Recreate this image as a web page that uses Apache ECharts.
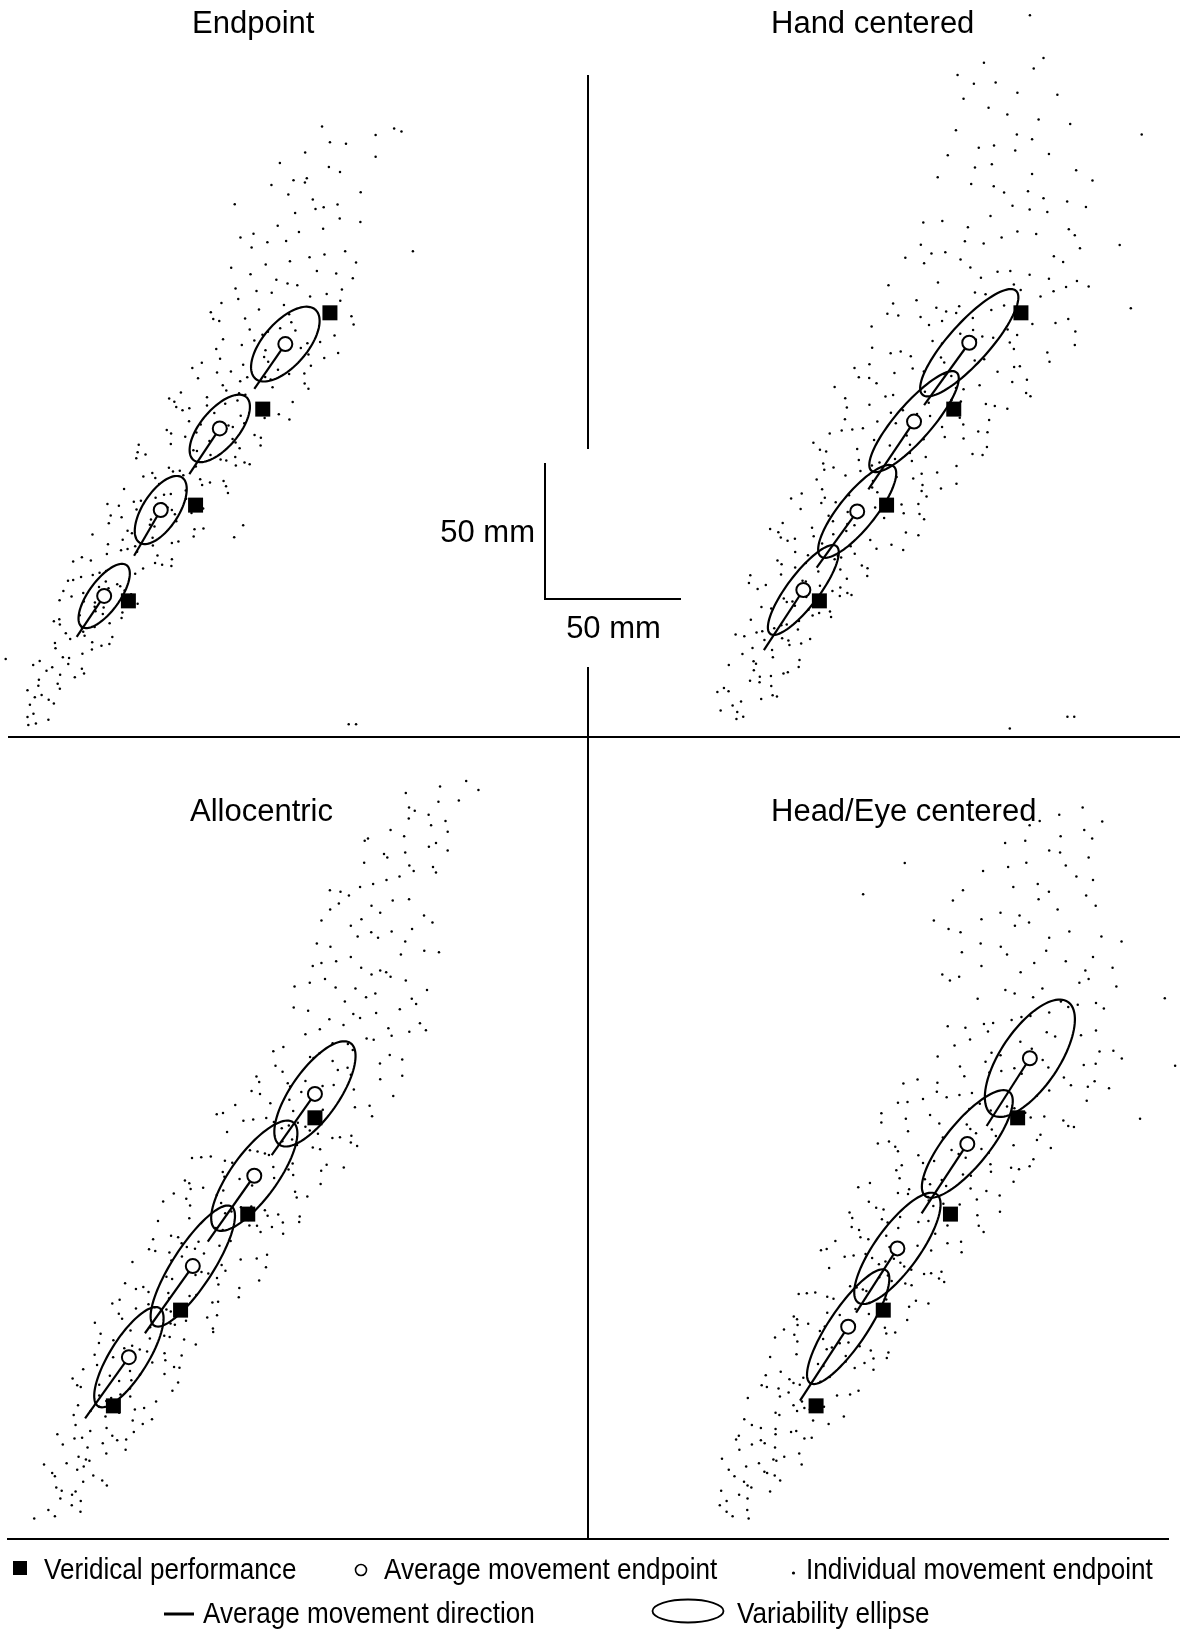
<!DOCTYPE html>
<html>
<head>
<meta charset="utf-8">
<script src="https://cdn.jsdelivr.net/npm/echarts@6/dist/echarts.min.js"></script>
<style>
html,body{margin:0;padding:0;background:#fff;}
#chart{width:1203px;height:1630px;}
</style>
</head>
<body>
<div id="chart"></div>
<script>
// ---------------- DATA (all positions in mm) ----------------
const panelTitles = ['Endpoint', 'Hand centered', 'Allocentric', 'Head/Eye centered'];
const legendLabels = ['Veridical performance', 'Average movement endpoint', 'Individual movement endpoint', 'Average movement direction', 'Variability ellipse'];
const scaleBarLabel = '50 mm';
const scaleBarLength = 50; // mm

// veridical targets (same in every panel)
const targets = [[121.3,149.7],[96.6,114.3],[71.9,79.0],[47.2,43.8]];

// Endpoint panel
const meanEndpoint = [[104.9,138.2],[80.8,107.2],[59.1,77.2],[38.3,45.6]];
const dirEndEndpoint = [[93.5,121.7],[69.6,90.4],[49.3,60.4],[28.2,30.6]];
const ellEndpoint = [[16.8,8.1,49],[15.1,7.0,50],[14.3,6.6,57],[14.0,5.7,54]]; // [semi-major, semi-minor, angle deg]
const dotsEndpoint = [
[13.2,-1.3],[12.3,2.3],[11.0,5.6],[17.8,0.1],[17.9,7.4],[10.1,1.1],[19.8,6.1],[10.4,-1.8],
[15.3,9.2],[14.3,14.8],[22.0,11.5],[30.9,17.1],[12.8,8.4],[21.2,13.3],[27.5,15.7],[10.1,10.9],[22.1,16.6],[14.1,12.6],
[25.1,20.6],[20.4,26.4],[30.1,18.8],[23.1,23.1],[40.2,27.9],[14.6,21.7],[30.3,24.4],[19.2,19.4],[33.8,25.9],[25.4,22.8],[12.2,20.2],[37.3,27.3],[17.1,18.1],
[24.2,31.9],[33.9,28.6],[22.0,35.1],[30.6,32.4],[44.7,37.5],[25.8,29.8],[34.8,34.2],[19.8,36.3],[41.3,30.5],[30.1,33.9],[20.2,28.3],[40.3,35.6],[31.1,31.0],[21.8,37.0],
[34.9,43.2],[45.0,39.5],[30.6,46.7],[38.1,41.4],[21.9,44.0],[45.8,47.6],[29.3,38.5],[50.6,42.7],[26.3,45.4],[35.1,40.0],[48.2,46.2],[30.8,43.6],[37.8,39.0],[23.3,47.4],[34.8,41.6],
[44.2,49.2],[39.0,54.8],[26.9,51.5],[59.6,57.1],[39.9,48.4],[34.1,53.3],[52.6,55.7],[38.9,50.9],[63.0,56.6],[29.8,52.6],[43.1,49.9],[36.6,54.1],[57.0,57.7],[25.0,51.2],[36.4,48.9],[49.7,53.8],
[50.4,61.9],[33.4,58.6],[63.2,65.1],[44.5,62.4],[71.2,67.5],[30.1,59.8],[56.2,64.2],[45.1,66.3],[57.9,60.5],[49.7,63.9],[26.9,58.3],[65.6,65.6],[39.3,61.0],[56.1,67.0],[46.9,62.9],[63.2,59.1],[39.7,64.6],
[48.5,68.7],[40.0,72.3],[64.3,75.6],[71.5,70.1],[50.2,77.4],[56.8,71.1],[70.4,76.1],[34.0,68.2],[55.5,73.7],[44.7,74.5],[74.7,77.8],[63.2,77.2],[46.9,69.6],[74.8,70.4],[40.7,75.2],[64.8,73.1],[55.1,71.8],[86.1,67.2],[89.4,71.6],
[51.8,80.6],[74.3,86.4],[43.7,78.8],[62.8,83.1],[82.2,87.9],[57.2,81.7],[68.3,84.4],[39.5,79.4],[83.1,85.9],[60.3,82.8],[49.2,80.2],[77.2,87.3],[61.6,78.1],[45.6,84.9],[68.4,81.3],[58.5,86.8],[83.8,83.5],[59.5,79.7],
[72.0,93.2],[52.7,89.5],[86.5,96.7],[63.6,91.4],[91.8,94.0],[53.5,97.6],[73.6,88.5],[62.1,92.7],[83.2,95.4],[67.4,90.0],[50.1,96.2],[86.7,93.6],[57.1,89.0],[77.4,97.4],[66.1,91.6],[89.9,94.7],[56.0,90.8],[81.1,95.8],
[71.1,99.2],[93.6,104.8],[62.8,101.5],[83.2,107.1],[50.6,98.4],[85.5,103.3],[72.2,105.7],[95.8,100.9],[61.3,106.6],[77.0,102.6],[88.1,99.9],[68.1,104.1],[85.6,107.7],[51.0,101.2],[72.4,98.9],[95.9,103.8],[62.9,105.3],[86.6,102.0],
[88.5,111.9],[73.8,108.6],[64.8,115.1],[102.5,112.4],[87.3,117.5],[69.5,109.8],[95.3,114.2],[82.8,116.3],[106.4,110.5],[67.1,113.9],[84.0,108.3],[76.1,115.6],[97.3,111.0],[64.1,117.0],[78.8,112.9],[89.8,109.1],[69.6,114.6],[107.6,116.9],
[76.1,118.7],[100.2,122.3],[72.8,125.6],[87.9,120.1],[111.9,127.4],[83.2,121.1],[97.5,126.1],[62.2,118.2],[112.0,123.7],[88.3,124.5],[79.8,127.8],[106.3,127.2],[90.2,119.6],[66.5,120.4],[99.5,125.2],[81.9,123.1],[113.4,121.8],[90.9,126.0],
[89.4,130.6],[79.5,136.4],[102.2,128.8],[119.2,133.1],[88.9,137.9],[98.6,131.7],[113.4,134.4],[70.7,129.4],[97.6,135.9],[80.9,132.8],[114.3,130.2],[105.3,137.3],[84.9,128.1],[124.3,134.9],[74.2,131.3],[110.6,136.8],[97.1,133.5],
[108.6,143.2],[93.5,139.5],[80.6,146.7],[123.0,141.4],[103.0,144.0],[90.1,147.6],[113.0,138.5],[98.5,142.7],[130.0,145.4],[82.0,140.0],[107.1,146.2],[91.8,143.6],[117.7,139.0],[78.4,147.4],[96.5,141.6],
[106.3,149.2],[87.6,154.8],[121.5,151.5],[99.9,157.1],[129.2,148.4],[81.4,153.3],[114.0,155.7],[95.2,150.9],[120.1,156.6],[104.4,152.6],[77.5,149.9],[125.1,154.1],[94.3,157.7],
[101.6,161.9],[86.6,158.6],[116.5,165.1],[129.7,162.4],[97.7,167.5],[109.3,159.8],[123.6,164.2],[85.0,166.3],[105.7,160.5],[92.1,163.9],[125.7,158.3],
[106.6,168.7],[126.9,172.3],[98.3,175.6],[113.8,170.1],[88.4,177.4],[119.3,171.1],[105.2,176.1],[130.9,168.2],[92.5,173.7],
[118.8,180.6],[108.5,186.4],[93.2,178.8],[132.5,183.1],[116.0,187.9],[102.1,181.7],[124.9,184.4],[109.9,179.4],
[106.0,193.2],[124.1,189.5],[99.8,196.7],[115.0,191.4],[132.6,194.0],[112.1,197.6],[119.0,188.5],
[112.8,199.2],[102.9,204.8],[125.0,201.5],[138.1,207.1],[107.9,198.4],[120.9,203.3],
[127.2,211.9],[112.2,208.6],[138.1,215.1],[121.3,212.4],[144.9,217.5],
[2.1,22.4],[128.2,-1.6],[130.9,-1.6],[151.8,172.3],[118.4,218.2],[86.3,189.6],[147.6,216.4]
];

// Hand centered panel
const meanHand = [[102.3,138.7],[82.0,109.7],[61.1,76.7],[41.3,47.8]];
const dirEndHand = [[85.7,115.8],[65.2,84.8],[46.2,56.0],[26.8,25.7]];
const ellHand = [[25.7,7.4,48],[23.9,6.6,49],[21.3,6.6,51],[20.2,5.9,53]];
const dotsHand = [
[19.2,1.2],[18.4,6.8],[10.9,3.5],[30.0,9.1],[16.7,0.4],[15.3,5.3],[25.8,7.7],[17.0,2.9],[31.6,8.6],
[25.2,13.9],[13.8,10.6],[34.0,17.1],[21.7,14.4],[39.6,19.5],[12.1,11.8],[29.4,16.2],[23.1,18.3],[29.5,12.5],[25.3,15.9],[9.7,10.3],[35.6,17.6],
[23.9,20.7],[18.9,24.3],[36.2,27.6],[39.9,22.1],[27.0,29.4],[30.1,23.1],[40.5,28.1],[13.9,20.2],[29.8,25.7],[22.6,26.5],[43.8,29.8],[35.8,29.2],[23.0,21.6],
[26.2,32.6],[44.7,38.4],[19.6,30.8],[35.2,35.1],[51.1,39.9],[30.6,33.7],[39.7,36.4],[16.4,31.4],[51.5,37.9],[33.2,34.8],[24.1,32.2],[47.1,39.3],[33.5,30.1],[22.0,36.9],[39.3,33.3],
[42.4,45.2],[25.9,41.5],[54.9,48.7],[35.2,43.4],[59.0,46.0],[27.5,49.6],[43.2,40.5],[34.1,44.7],[52.0,47.4],[38.2,42.0],[24.5,48.2],[54.7,45.6],[29.5,41.0],[47.4,49.4],[37.3,43.6],[57.5,46.7],
[41.0,51.2],[62.8,56.8],[33.1,53.5],[52.8,59.1],[21.3,50.4],[54.9,55.3],[42.2,57.7],[64.8,52.9],[31.8,58.6],[46.8,54.6],[57.3,51.9],[38.3,56.1],[55.2,59.7],[21.8,53.2],[42.2,50.9],[64.9,55.8],[33.3,57.3],
[58.7,63.9],[43.0,60.6],[33.0,67.1],[73.7,64.4],[57.1,69.5],[38.3,61.8],[65.9,66.2],[52.3,68.3],[78.0,62.5],[35.5,65.9],[54.0,60.3],[45.1,67.6],[68.2,63.0],[32.1,69.0],[48.2,64.9],[60.2,61.1],[38.2,66.6],[79.0,68.9],[83.6,67.9],
[44.5,70.7],[71.0,74.3],[40.3,77.6],[57.5,72.1],[83.6,79.4],[52.2,73.1],[67.7,78.1],[29.1,70.2],[84.0,75.7],[57.6,76.5],[47.9,79.8],[77.4,79.2],[60.1,71.6],[33.7,72.4],[70.0,77.2],[50.6,75.1],[85.7,73.8],[60.4,78.0],[78.2,76.0],
[58.1,82.6],[46.2,88.4],[72.9,80.8],[91.9,85.1],[56.8,89.9],[68.5,83.7],[85.1,86.4],[36.8,81.4],[66.9,87.9],[48.2,84.8],[86.6,82.2],[75.6,89.3],[53.2,80.1],[97.6,86.9],[40.7,83.3],[81.7,88.8],[66.6,85.5],[49.2,81.7],[84.8,84.2],
[81.2,95.2],[62.3,91.5],[49.7,98.7],[97.6,93.4],[75.0,96.0],[61.1,99.6],[84.8,90.5],[69.3,94.7],[107.2,97.4],[49.0,92.0],[80.5,98.2],[61.7,95.6],[90.5,91.0],[47.4,99.4],[66.5,93.6],[86.3,96.7],[52.4,92.8],[103.5,97.8],[48.6,94.3],
[80.5,101.2],[59.3,106.8],[100.2,103.5],[75.3,109.1],[108.8,100.4],[51.0,105.3],[92.3,107.7],[67.3,102.9],[100.1,108.6],[79.3,104.6],[45.0,101.9],[105.6,106.1],[68.5,109.7],[85.5,103.2],[73.1,100.9],[109.0,105.8],[63.2,107.3],[93.3,104.0],[55.4,106.4],
[77.9,113.9],[56.6,110.6],[99.2,117.1],[116.3,114.4],[74.3,119.5],[87.9,111.8],[108.4,116.2],[56.7,118.3],[83.1,112.5],[65.6,115.9],[109.6,110.3],[95.7,117.6],[73.5,113.0],[124.8,119.0],[57.3,114.9],[98.8,111.1],[87.4,116.6],[71.5,118.9],[111.7,115.4],
[86.0,120.7],[118.1,124.3],[74.8,127.6],[97.4,122.1],[60.1,129.4],[106.1,123.1],[85.6,128.1],[123.2,120.2],[65.5,125.7],[95.7,126.5],[118.8,129.8],[81.5,129.2],[100.2,121.6],[52.8,122.4],[92.9,127.2],[123.5,125.1],[68.2,123.8],[112.7,128.0],[61.7,126.0],
[107.8,132.6],[92.3,138.4],[65.6,130.8],[131.0,135.1],[104.7,139.9],[80.8,133.7],[118.7,136.4],[93.1,131.4],[141.1,137.9],[73.4,134.8],[104.3,132.2],[88.8,139.3],[120.9,130.1],[66.6,136.9],[91.9,133.3],[117.2,138.8],[77.1,135.5],[131.8,131.7],
[87.5,145.2],[119.9,141.5],[76.2,148.7],[103.7,143.4],[134.0,146.0],[97.5,149.6],[111.1,140.5],[66.4,144.7],[138.7,147.4],[99.0,142.0],[84.4,148.2],[125.5,145.6],[107.1,141.0],[72.2,149.4],[116.4,143.6],[92.3,146.7],[141.3,142.8],[103.6,147.8],
[110.4,150.7],[82.9,154.3],[133.3,157.6],[98.6,152.1],[146.2,159.4],[74.3,153.1],[121.2,158.1],[93.8,150.2],[128.5,155.7],[108.3,156.5],[72.6,159.8],[137.9,159.2],[90.2,151.6],[115.1,152.4],[104.4,157.2],
[106.6,162.6],[136.8,168.4],[90.8,160.8],[117.4,165.1],[78.8,169.9],[124.5,163.7],[102.7,166.4],[141.9,161.4],[85.7,167.9],[112.7,164.8],[131.6,162.2],[99.1,169.3],[118.7,160.1],
[107.6,175.2],[88.4,171.5],[126.9,178.7],[143.0,173.4],[100.7,176.0],[120.0,179.6],[133.4,170.5],[84.5,174.7],[114.2,177.4],[93.5,172.0],[141.1,178.2],
[101.8,181.2],[131.0,186.8],[92.4,183.5],[118.2,189.1],[138.9,180.4],[110.1,185.3],[124.5,187.7],[85.4,182.9],[145.2,188.6],
[115.1,193.9],[138.3,190.6],[103.0,197.1],[123.9,194.4],[90.7,199.5],[129.6,191.8],[111.3,196.2],[147.6,198.3],
[125.4,200.7],[110.6,204.3],[94.4,207.6],[141.6,202.1],[119.2,209.4],[104.4,203.1],[131.6,208.1],
[111.4,211.2],[97.4,216.8],[125.4,213.5],[139.4,219.1],[105.8,210.4],[119.8,215.3],
[116.3,222.6],[100.2,228.4],[127.8,220.8],[109.4,225.1],[134.7,229.9],
[104.0,233.9],[120.0,230.6],[98.0,237.1],[112.0,234.4],[126.0,239.5],[129.6,243.4],[107.7,241.6],
[117.2,-3.1],[138.4,1.2],[140.9,1.2],[124.6,259.1],[161.7,151.4],[165.7,215.3],[157.6,174.6]
];

// Allocentric panel
const meanAllo = [[121.3,158.5],[99.0,128.4],[76.4,95.2],[52.9,61.7]];
const dirEndAllo = [[105.4,136.0],[81.9,104.2],[58.8,70.5],[36.8,39.2]];
const ellAllo = [[22.8,8.8,55],[24.3,8.5,54],[26.1,7.4,57],[21.3,7.0,58]];
const dotsAllo = [
[25.7,3.2],[35.2,8.8],[23.3,5.5],[32.0,11.1],[18.1,2.4],[31.9,7.3],[27.7,9.7],[35.1,4.9],
[36.1,15.9],[28.2,12.6],[24.7,19.1],[43.1,16.4],[36.3,21.5],[26.2,13.8],[39.8,18.2],[33.9,20.3],[44.8,14.5],[25.7,17.9],[33.3,12.3],
[30.0,22.7],[44.6,26.3],[28.6,29.6],[37.1,24.1],[51.9,31.4],[34.4,25.1],[43.3,30.1],[21.7,22.2],[51.7,27.7],[37.7,28.5],[32.9,31.8],[48.6,31.2],[38.4,23.6],
[38.7,34.6],[32.6,40.4],[46.8,32.8],[58.0,37.1],[38.8,41.9],[44.7,35.7],[54.3,38.4],[26.6,33.4],[44.3,39.9],[33.3,36.8],[54.7,34.2],[49.3,41.3],[35.7,32.1],[61.4,38.9],
[53.4,47.2],[42.0,43.5],[35.2,50.7],[62.9,45.4],[49.8,48.0],[42.0,51.6],[55.1,42.5],[46.4,46.7],[68.9,49.4],[34.2,44.0],[53.3,50.2],[42.0,47.6],[58.5,43.0],[33.9,51.4],[44.6,45.6],
[53.8,53.2],[41.2,58.8],[66.0,55.5],[51.2,61.1],[71.0,52.4],[36.1,57.3],[61.5,59.7],[45.9,54.9],[66.3,60.6],[53.3,56.6],[32.2,53.9],[69.5,58.1],[47.1,61.7],[57.0,55.2],[49.3,52.9],[71.5,57.8],
[54.1,65.9],[40.3,62.6],[67.9,69.1],[77.5,66.4],[53.5,71.5],[59.6,63.8],[73.2,68.2],[42.5,70.3],[56.9,64.5],[47.2,67.9],[72.3,62.3],[65.9,69.6],[51.2,65.0],[83.9,71.0],[41.9,66.9],[66.0,63.1],[60.6,68.6],
[60.7,72.7],[81.7,76.3],[55.5,79.6],[68.2,74.1],[46.8,81.4],[73.9,75.1],[62.4,80.1],[83.8,72.2],[49.2,77.7],[68.3,78.5],[83.6,81.8],[60.1,81.2],[69.8,73.6],[40.4,74.4],[66.7,79.2],[85.3,77.1],[50.4,75.8],
[77.7,84.6],[68.8,90.4],[49.5,82.8],[93.5,87.1],[77.4,91.9],[60.1,85.7],[85.8,88.4],[67.7,83.4],[100.8,89.9],[55.5,86.8],[75.2,84.2],[66.7,91.3],[85.7,82.1],[51.5,88.9],[67.4,85.3],[85.3,90.8],[58.2,87.5],[93.3,83.7],
[68.5,97.2],[88.4,93.5],[62.6,100.7],[78.5,95.4],[99.9,98.0],[77.2,101.6],[82.1,92.5],[54.2,96.7],[103.7,99.4],[74.7,94.0],[67.8,100.2],[94.0,97.6],[79.6,93.0],[60.3,101.4],[87.0,95.6],[72.4,98.7],[103.3,94.8],[80.5,99.8],
[86.2,102.7],[68.4,106.3],[105.5,109.6],[78.5,104.1],[115.5,111.4],[61.8,105.1],[97.2,110.1],[74.2,102.2],[101.3,107.7],[87.4,108.5],[63.6,111.8],[109.5,111.2],[72.3,103.6],[90.3,104.4],[84.9,109.2],[109.6,107.1],[71.0,105.8],[100.0,110.0],
[88.3,114.6],[114.6,120.4],[75.1,112.8],[97.9,117.1],[69.4,121.9],[102.9,115.7],[86.8,118.4],[115.7,113.4],[74.0,119.9],[94.1,116.8],[107.8,114.2],[85.2,121.3],[96.8,112.1],[65.5,118.9],[90.6,115.3],[118.5,120.8],[75.4,117.5],[103.9,113.7],
[93.6,127.2],[75.6,123.5],[111.6,130.7],[123.4,125.4],[88.0,128.0],[106.0,131.6],[114.0,122.5],[73.5,126.7],[100.2,129.4],[80.2,124.0],[123.6,130.2],[106.3,127.6],[87.6,123.0],[131.9,131.4],[75.1,125.6],[113.3,128.7],[98.2,124.8],[87.4,129.8],
[90.9,133.2],[120.5,138.8],[83.0,135.5],[109.3,141.1],[125.6,132.4],[100.2,137.3],[114.7,139.7],[76.1,134.9],[134.5,140.6],[102.9,136.6],[88.2,133.9],[123.2,138.1],[112.9,141.7],[79.5,135.2],[113.1,132.9],[97.4,137.8],[136.8,139.3],[104.4,136.0],
[109.1,145.9],[130.5,142.6],[98.6,149.1],[117.8,146.4],[87.5,151.5],[122.4,143.8],[106.2,148.2],[142.3,150.3],[89.0,144.5],[115.0,147.9],[127.7,142.3],[103.4,149.6],[119.4,145.0],[85.2,151.0],[111.7,146.9],[134.7,143.1],[95.0,148.6],
[124.2,152.7],[111.9,156.3],[98.0,159.6],[141.4,154.1],[124.1,161.4],[104.9,155.1],[135.6,160.1],[113.3,152.2],[150.1,157.7],[101.1,158.5],[128.2,161.8],[112.2,161.2],[136.0,153.6],[92.0,154.4],[116.3,159.2],
[117.8,163.2],[106.8,168.8],[134.5,165.5],[153.4,171.1],[111.3,162.4],[129.7,167.3],[145.2,169.7],[99.8,164.9],[127.8,170.6],[109.4,166.6],[145.3,163.9],[133.3,168.1],[120.8,171.7],[153.4,165.2],[100.8,162.9],
[135.2,174.6],[117.8,180.4],[148.8,172.8],[127.8,177.1],[162.1,181.9],[109.7,175.7],[142.9,178.4],[123.0,173.4],[149.5,179.9],[133.4,176.8],[106.0,174.2],[156.0,181.3],[119.5,172.1],[140.3,178.9],
[126.6,185.9],[148.3,182.6],[118.8,189.1],[137.9,186.4],[158.5,191.5],[131.8,183.8],[143.8,188.2],[113.5,190.3],[159.9,184.5],[135.4,187.9],[123.1,182.3],[152.5,189.6],
[136.2,197.2],[156.9,193.5],[125.0,200.7],[143.5,195.4],[113.8,198.0],[149.1,201.6],[132.3,192.5],[162.5,196.7],[119.4,199.4],[140.1,194.0],[154.7,200.2],[128.9,197.6],
[147.5,203.2],[134.5,208.8],[120.5,205.5],[161.5,211.1],[142.1,202.4],[129.1,207.3],[152.9,209.7],[138.3,204.9],[166.9,210.6],[123.7,206.6],[145.3,203.9],
[144.5,215.9],[127.0,212.6],[157.0,219.1],[137.0,216.4],[164.5,221.5],[122.0,213.8],[149.5,218.2],[134.5,220.3],[154.5,214.5],[142.0,217.9],
[138.4,222.7],[126.9,226.3],[149.9,229.6],[161.4,224.1],[133.8,231.4],[145.3,225.1],[155.9,230.1],[123.7,222.2],[142.1,227.7],[130.1,228.5],
[137.9,234.6],[157.6,240.4],[130.7,232.8],[147.6,237.1],[164.7,241.9],[142.7,235.7],[152.4,238.4],[126.8,233.4],[165.8,239.9],
[154.5,247.2],[139.4,243.5],[165.8,250.7],[147.9,245.4],[170.1,248.0],[139.6,251.6],[156.0,242.5],[146.7,246.7],[163.2,249.4],
[154.1,253.2],[169.3,258.8],[149.1,255.5],[163.1,261.1],[140.8,252.4],[164.0,257.3],[155.8,259.7],[170.1,254.9],
[166.7,265.9],[158.0,262.6],[154.7,269.1],[174.2,266.4],[167.3,271.5],[155.9,263.8],
[181.4,270.2],[176.9,273.5]
];

// Head/Eye centered panel
const meanHeadEye = [[125.8,171.6],[102.8,140.1],[77.1,101.7],[59.0,72.9]];
const dirEndHeadEye = [[109.9,146.7],[86.0,114.6],[61.9,78.1],[41.3,45.7]];
const ellHeadEye = [[25.0,10.7,56],[24.6,8.1,51],[24.6,8.1,54],[25.0,7.0,56]];
const dotsHeadEye = [
[16.5,3.2],[14.3,8.8],[21.9,5.5],[18.9,11.1],[22.4,2.4],[11.8,7.3],[22.0,9.7],[14.3,4.9],
[20.7,15.9],[12.3,12.6],[29.2,19.1],[34.0,16.4],[21.5,21.5],[23.4,13.8],[32.0,18.2],[15.1,20.3],[22.0,14.5],[17.2,17.9],[30.3,12.3],[28.2,19.6],
[26.2,22.7],[41.0,26.3],[23.6,29.6],[31.5,24.1],[17.8,31.4],[35.5,25.1],[28.3,30.1],[41.9,22.2],[19.0,27.7],[32.1,28.5],[42.9,31.8],[26.9,31.2],[32.6,23.6],[12.6,24.4],
[39.9,34.6],[33.7,40.4],[18.8,32.8],[51.8,37.1],[40.2,41.9],[26.9,35.7],[46.1,38.4],[32.3,33.4],[57.4,39.9],[23.6,36.8],[38.0,34.2],[32.3,41.3],[45.6,32.1],[20.8,38.9],[32.3,35.3],
[33.9,47.2],[50.1,43.5],[29.1,50.7],[42.0,45.4],[59.7,48.0],[41.2,51.6],[44.9,42.5],[22.1,46.7],[62.8,49.4],[38.9,44.0],[33.4,50.2],[54.9,47.6],[42.9,43.0],[27.2,51.4],[49.1,45.6],[37.1,48.7],
[48.8,52.7],[34.2,56.3],[65.0,59.6],[42.5,54.1],[73.2,61.4],[28.7,55.1],[58.1,60.1],[38.9,52.2],[61.4,57.7],[49.9,58.5],[30.3,61.8],[68.3,61.2],[37.4,53.6],[52.2,54.4],[47.9,59.2],[68.3,57.1],
[51.1,64.6],[73.0,70.4],[40.0,62.8],[59.1,67.1],[35.4,71.9],[63.2,65.7],[49.8,68.4],[73.8,63.4],[39.2,69.9],[55.9,66.8],[67.3,64.2],[48.6,71.3],[58.1,62.1],[32.1,68.9],[53.0,65.3],[76.3,70.8],[40.3,67.5],
[55.9,77.2],[40.4,73.5],[71.4,80.7],[80.7,75.4],[51.3,78.0],[66.8,81.6],[72.5,72.5],[39.0,76.7],[61.7,79.4],[44.3,74.0],[81.4,80.2],[66.6,77.6],[50.4,73.0],[88.5,81.4],[40.2,75.6],[72.6,78.7],[59.5,74.8],
[53.6,83.2],[80.0,88.8],[46.9,85.5],[70.4,91.1],[83.9,82.4],[62.1,87.3],[75.0,89.7],[40.8,84.9],[92.4,90.6],[64.4,86.6],[51.3,83.9],[82.3,88.1],[73.6,91.7],[43.8,85.2],[73.0,82.9],[59.7,87.8],[94.3,89.3],[65.7,86.0],
[70.3,95.9],[89.5,92.6],[61.0,99.1],[78.2,96.4],[51.1,101.5],[82.2,93.8],[67.8,98.2],[100.7,100.3],[52.0,94.5],[75.8,97.9],[86.9,92.3],[65.4,99.6],[79.6,95.0],[49.0,101.0],[72.7,96.9],[93.3,93.1],[57.7,98.6],[89.5,100.9],
[84.5,102.7],[73.0,106.3],[60.3,109.6],[100.5,104.1],[84.8,111.4],[66.4,105.1],[95.5,110.1],[74.2,102.2],[108.8,107.7],[63.0,108.5],[88.5,111.8],[73.5,111.2],[95.5,103.6],[54.3,104.4],[77.4,109.2],[91.0,107.1],[63.5,105.8],[107.0,110.0],
[78.1,113.2],[66.6,118.8],[95.3,115.5],[114.7,121.1],[71.4,112.4],[90.3,117.3],[106.3,119.7],[59.5,114.9],[88.3,120.6],[69.3,116.6],[106.5,113.9],[94.0,118.1],[81.0,121.7],[114.8,115.2],[60.5,112.9],[100.0,117.8],[88.6,119.3],[72.0,116.0],
[95.0,124.6],[76.7,130.4],[109.8,122.8],[87.2,127.1],[125.7,131.9],[67.0,125.7],[104.1,128.4],[81.4,123.4],[111.5,129.9],[93.4,126.8],[62.7,124.2],[118.9,131.3],[77.3,122.1],[101.2,128.9],[89.1,125.3],[121.8,130.8],[77.9,127.5],[104.0,123.7],[119.8,126.2],
[84.8,135.9],[111.3,132.6],[76.3,139.1],[99.6,136.4],[128.4,141.5],[90.6,133.8],[108.0,138.2],[69.9,140.3],[127.1,134.5],[97.0,137.9],[78.7,132.3],[119.8,139.6],[102.2,135.0],[74.0,141.0],[110.7,136.9],[86.5,133.1],[133.5,138.6],[101.3,140.9],[77.3,137.4],
[102.6,147.2],[129.7,143.5],[89.1,150.7],[111.8,145.4],[71.2,148.0],[124.1,151.6],[93.8,142.5],[139.9,146.7],[80.2,149.4],[106.0,144.0],[131.1,150.2],[92.5,147.6],[113.3,143.0],[71.2,151.4],[103.9,145.6],[138.1,148.7],[81.0,144.8],[126.1,149.8],[142.0,146.3],
[120.1,153.2],[104.5,158.8],[80.8,155.5],[147.1,161.1],[111.4,152.4],[95.2,157.3],[132.9,159.7],[107.4,154.9],[154.9,160.6],[86.5,156.6],[117.4,153.9],[99.9,158.1],[140.9,161.7],[77.3,155.2],[103.5,152.9],[128.4,157.8],[91.6,159.3],[146.7,156.0],
[122.8,165.9],[91.8,162.6],[145.6,169.1],[110.9,166.4],[159.6,171.5],[84.5,163.8],[132.6,168.2],[109.5,170.3],[138.3,164.5],[120.1,167.9],[79.3,162.3],[150.0,169.6],[101.7,165.0],[130.5,171.0],[115.3,166.9],[149.6,163.1],[100.1,168.6],
[115.0,172.7],[98.1,176.3],[135.1,179.6],[151.4,174.1],[110.4,181.4],[126.5,175.1],[144.6,180.1],[91.9,172.2],[122.3,177.7],[103.8,178.5],[150.1,181.8],[132.0,181.2],[111.7,173.6],[156.5,174.4],
[112.3,184.6],[139.9,190.4],[102.1,182.8],[126.0,187.1],[150.1,191.9],[119.1,185.7],[132.9,188.4],[95.6,183.4],[153.0,189.9],[122.7,186.8],[108.9,184.2],[143.4,191.3],
[130.4,197.2],[106.6,193.5],[147.4,200.7],[120.2,195.4],[157.6,198.0],[99.8,201.6],[137.2,192.5],[116.8,196.7],[144.0,199.4],[127.0,194.0],[96.4,200.2],
[122.4,203.2],[149.0,208.8],[108.0,205.5],[131.8,211.1],[93.6,202.4],[139.0,207.3],[117.4,209.7],[156.2,204.9],[100.8,210.6],[127.4,206.6],[146.2,203.9],
[132.9,215.9],[115.1,212.6],[95.9,219.1],[152.1,216.4],[125.5,221.5],[107.7,213.8],[140.3,218.2],[120.3,220.3],[159.5,214.5],[100.3,217.9],
[108.0,222.7],[136.0,226.3],[97.5,229.6],[122.0,224.1],[146.5,231.4],[115.0,225.1],[129.0,230.1],[90.5,222.2],[150.0,227.7],
[119.7,234.6],[108.6,240.4],[132.8,232.8],[149.0,237.1],[117.8,241.9],[128.7,235.7],[142.9,238.4],[101.2,233.4],
[136.9,247.2],[124.5,243.5],[116.7,250.7],[147.4,245.4],[132.9,248.0],[124.1,251.6],[139.0,242.5],
[137.1,253.2],[129.4,258.8],[145.8,255.5],[136.6,261.1],[148.7,252.4],[125.7,257.3],
[179.2,168.8],[175.4,193.7],[166.3,149.4],[64.5,231.9],[79.8,243.4],[152.4,258.6],[145.2,263.8]
];

// ---------------- LAYOUT ----------------
const K = 2.72; // px per mm
const FONT = '"Liberation Sans", Arial, Helvetica, sans-serif';
const panels = [
  {title: panelTitles[0], mean: meanEndpoint, dir: dirEndEndpoint, ell: ellEndpoint, dots: dotsEndpoint, ox: 0,     oy: 720,  box: [0, 0, 590, 730],     tx: 192, ty: 24.7},
  {title: panelTitles[1], mean: meanHand,     dir: dirEndHand,     ell: ellHand,     dots: dotsHand,     ox: 691,   oy: 720,  box: [590, 0, 613, 730],   tx: 771, ty: 24.7},
  {title: panelTitles[2], mean: meanAllo,     dir: dirEndAllo,     ell: ellAllo,     dots: dotsAllo,     ox: -15,   oy: 1525, box: [0, 740, 590, 800],   tx: 190, ty: 812.5},
  {title: panelTitles[3], mean: meanHeadEye,  dir: dirEndHeadEye,  ell: ellHeadEye,  dots: dotsHeadEye,  ox: 687.7, oy: 1525, box: [590, 740, 613, 800], tx: 771, ty: 812.5}
];

function ellipseCoords(c, e) {
  const th = e[2] * Math.PI / 180, pts = [];
  for (let i = 0; i <= 96; i++) {
    const t = 2 * Math.PI * i / 96;
    pts.push([
      c[0] + e[0] * Math.cos(th) * Math.cos(t) - e[1] * Math.sin(th) * Math.sin(t),
      c[1] + e[0] * Math.sin(th) * Math.cos(t) + e[1] * Math.cos(th) * Math.sin(t)
    ]);
  }
  return pts;
}

const grids = [], xAxes = [], yAxes = [], series = [], graphics = [];
panels.forEach((p, i) => {
  const [l, t, w, h] = p.box;
  grids.push({left: l, top: t, width: w, height: h, containLabel: false});
  xAxes.push({type: 'value', gridIndex: i, min: (l - p.ox) / K, max: (l + w - p.ox) / K, show: false});
  yAxes.push({type: 'value', gridIndex: i, min: (p.oy - (t + h)) / K, max: (p.oy - t) / K, show: false});
  series.push({
    name: legendLabels[2], type: 'scatter', xAxisIndex: i, yAxisIndex: i, data: p.dots,
    symbol: 'circle', symbolSize: 2.5, itemStyle: {color: '#000', opacity: 1}, silent: true, z: 1
  });
  series.push({
    name: legendLabels[4], type: 'lines', coordinateSystem: 'cartesian2d', xAxisIndex: i, yAxisIndex: i,
    polyline: true, silent: true, z: 2,
    lineStyle: {color: '#000', width: 2.2, opacity: 1},
    data: p.ell.map((e, k) => ({coords: ellipseCoords(p.mean[k], e)}))
  });
  series.push({
    name: legendLabels[3], type: 'lines', coordinateSystem: 'cartesian2d', xAxisIndex: i, yAxisIndex: i,
    silent: true, z: 3,
    lineStyle: {color: '#000', width: 2.2, opacity: 1},
    data: p.mean.map((m, k) => ({coords: [m, p.dir[k]]}))
  });
  series.push({
    name: legendLabels[1], type: 'scatter', xAxisIndex: i, yAxisIndex: i, data: p.mean,
    symbol: 'circle', symbolSize: 14, itemStyle: {color: '#fff', borderColor: '#000', borderWidth: 2, opacity: 1},
    silent: true, z: 4
  });
  series.push({
    name: legendLabels[0], type: 'scatter', xAxisIndex: i, yAxisIndex: i, data: targets,
    symbol: 'rect', symbolSize: 15, itemStyle: {color: '#000', opacity: 1}, silent: true, z: 5
  });
  graphics.push({type: 'text', x: p.tx, y: p.ty, silent: true,
    style: {text: p.title, fontSize: 31, fontFamily: FONT, fill: '#000', align: 'left', verticalAlign: 'middle'}});
});

// dividers
const LW = 2;
graphics.push({type: 'line', silent: true, shape: {x1: 588, y1: 75, x2: 588, y2: 449}, style: {stroke: '#000', lineWidth: LW}});
graphics.push({type: 'line', silent: true, shape: {x1: 588, y1: 667, x2: 588, y2: 1539}, style: {stroke: '#000', lineWidth: LW}});
graphics.push({type: 'line', silent: true, shape: {x1: 8, y1: 737, x2: 1180, y2: 737}, style: {stroke: '#000', lineWidth: LW}});
graphics.push({type: 'line', silent: true, shape: {x1: 7, y1: 1539, x2: 1169, y2: 1539}, style: {stroke: '#000', lineWidth: LW}});

// scale bar
const sbx = 545, sby = 599, sbl = scaleBarLength * K;
graphics.push({type: 'polyline', silent: true, shape: {points: [[sbx, sby - sbl], [sbx, sby], [sbx + sbl, sby]]}, style: {stroke: '#000', lineWidth: LW, fill: null}});
graphics.push({type: 'text', x: 535, y: 533, silent: true, style: {text: scaleBarLabel, fontSize: 31, fontFamily: FONT, fill: '#000', align: 'right', verticalAlign: 'middle'}});
graphics.push({type: 'text', x: 613.5, y: 629, silent: true, style: {text: scaleBarLabel, fontSize: 31, fontFamily: FONT, fill: '#000', align: 'center', verticalAlign: 'middle'}});

// legend
const LS = 0.9, LF = 29;
function legText(txt, x, y) {
  return {type: 'text', x: x, y: y, scaleX: LS, silent: true,
    style: {text: txt, fontSize: LF, fontFamily: FONT, fill: '#000', align: 'left', verticalAlign: 'middle'}};
}
const R1 = 1571, R2 = 1614.5;
graphics.push({type: 'rect', silent: true, shape: {x: 13, y: 1561, width: 14, height: 14}, style: {fill: '#000'}});
graphics.push(legText(legendLabels[0], 44, R1));
graphics.push({type: 'circle', silent: true, shape: {cx: 361, cy: 1570, r: 5.5}, style: {fill: '#fff', stroke: '#000', lineWidth: 1.6}});
graphics.push(legText(legendLabels[1], 384, R1));
graphics.push({type: 'circle', silent: true, shape: {cx: 793.5, cy: 1573, r: 1.6}, style: {fill: '#000'}});
graphics.push(legText(legendLabels[2], 806, R1));
graphics.push({type: 'line', silent: true, shape: {x1: 164, y1: 1614, x2: 194, y2: 1614}, style: {stroke: '#000', lineWidth: 3}});
graphics.push(legText(legendLabels[3], 203, R2));
graphics.push({type: 'ellipse', silent: true, shape: {cx: 688, cy: 1611, rx: 35.5, ry: 11.5}, style: {fill: null, stroke: '#000', lineWidth: 1.8}});
graphics.push(legText(legendLabels[4], 737, R2));

const chart = echarts.init(document.getElementById('chart'), null, {renderer: 'canvas', width: 1203, height: 1630});
chart.setOption({
  backgroundColor: '#fff',
  animation: false,
  grid: grids,
  xAxis: xAxes,
  yAxis: yAxes,
  series: series,
  graphic: {elements: graphics}
});
</script>
</body>
</html>
